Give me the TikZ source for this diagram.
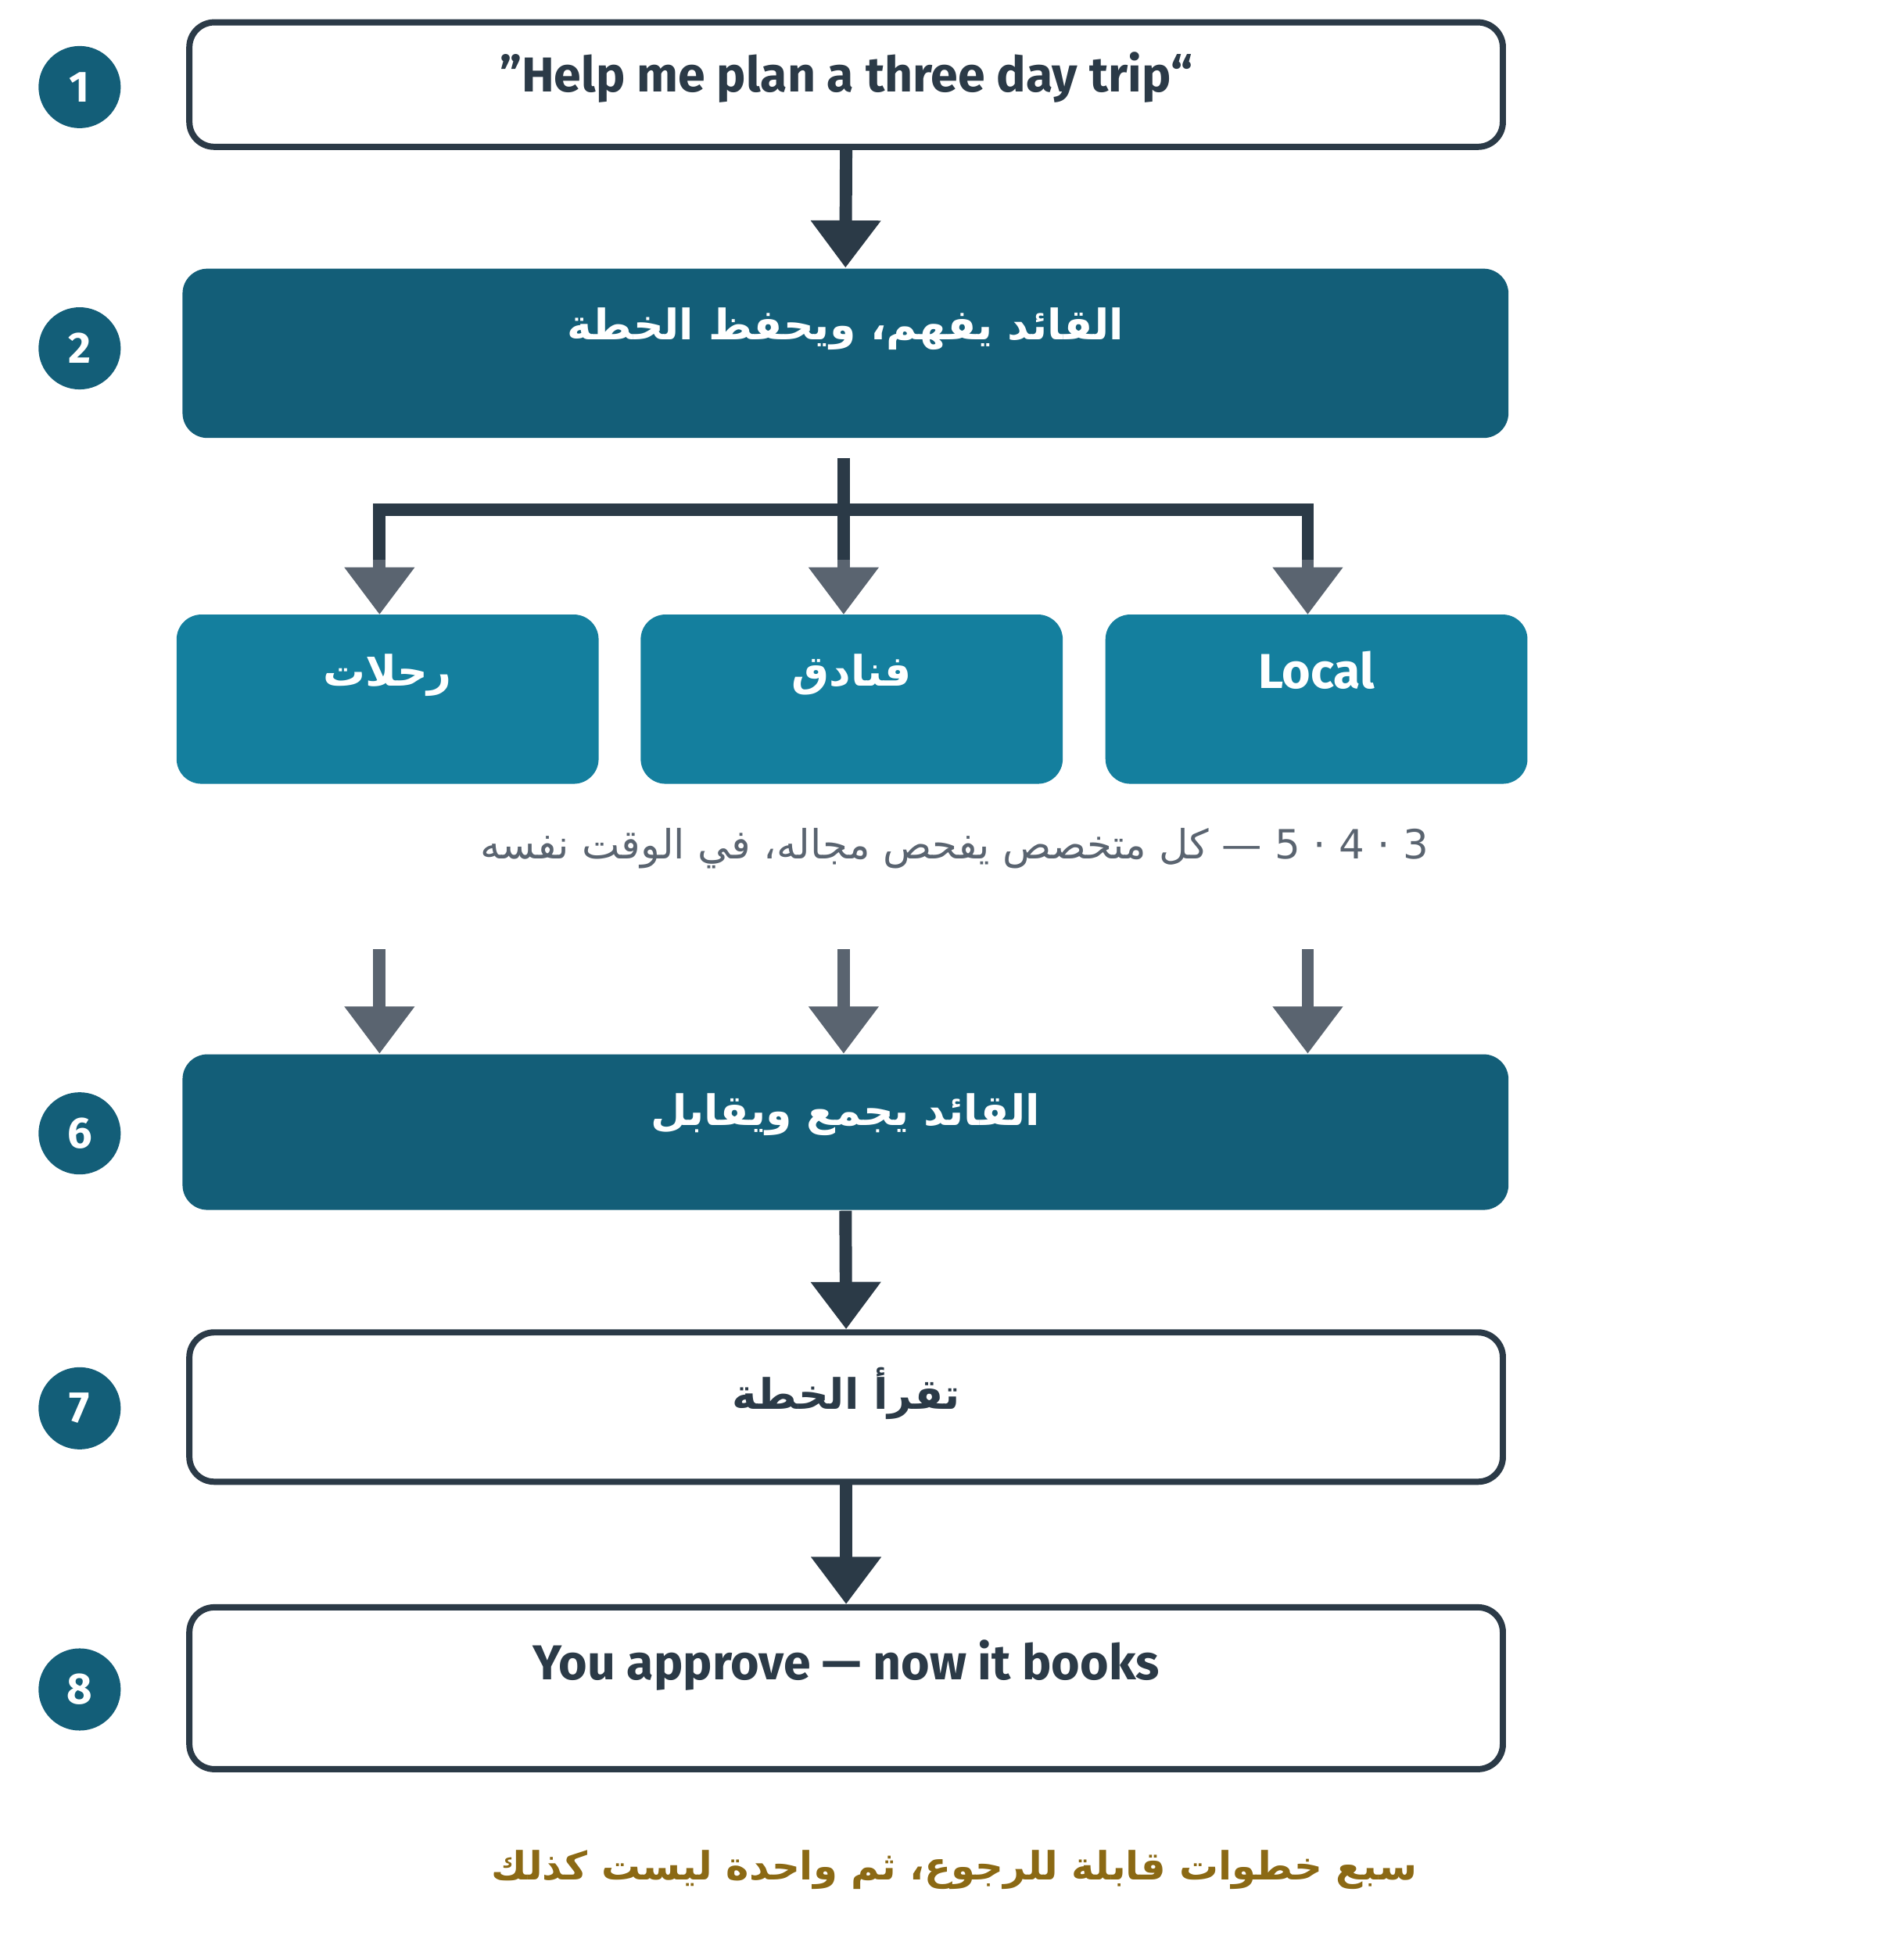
\documentclass[tikz,border=0pt]{standalone}
\usepackage{fontspec}
\setmainfont{Fira Sans}
\newfontfamily\arabicfont[Script=Arabic]{DejaVu Sans}
\usetikzlibrary{positioning,arrows.meta}
\TeXXeTstate=1
\newcommand{\ar}[1]{{\arabicfont\beginR #1\endR}}
\definecolor{ink}{HTML}{2B3A47}
\definecolor{deepteal}{HTML}{135E78}
\definecolor{midteal}{HTML}{147F9E}
\definecolor{slate}{HTML}{5A6470}
\definecolor{gold}{HTML}{8B6914}
\tikzset{
  stepno/.style={circle,fill=deepteal,minimum size=0.66cm,inner sep=0pt,text=white,font=\fontsize{10}{12}\selectfont\bfseries},
  plainbox/.style={draw=ink,line width=0.05cm,rounded corners=0.2cm,fill=white,minimum width=10.55cm},
  leadbox/.style={fill=deepteal,rounded corners=0.2cm,minimum width=10.65cm},
  agentbox/.style={fill=midteal,rounded corners=0.2cm,minimum width=3.39cm,minimum height=1.36cm},
  boxtext/.style={anchor=north,font=\fontsize{11.2}{13}\selectfont\bfseries},
  arabtext/.style={anchor=north,font=\fontsize{9.6}{12}\selectfont\bfseries},
  flow/.style={ink,line width=0.1cm,-{Triangle[width=0.54cm,length=0.38cm]}},
  fan/.style={ink,line width=0.1cm},
  fanarrow/.style={slate,line width=0.1cm,-{Triangle[width=0.54cm,length=0.38cm]}}
}
\begin{document}
\begin{tikzpicture}[x=0.01cm,y=-0.01cm]
  \useasboundingbox (0,0) rectangle (1530,1561);

  % step numbers
  \node[stepno] (n1) at (64,70) {1};
  \node[stepno] (n2) at (64,280) {2};
  \node[stepno] (n6) at (64,911) {6};
  \node[stepno] (n7) at (64,1132) {7};
  \node[stepno] (n8) at (64,1358) {8};

  % boxes
  \node[plainbox,minimum height=1.0cm] (ask) at (680,68) {};
  \node[boxtext,text=ink] (askt) at ([yshift=-0.14cm]ask.north) {”Help me plan a three day trip“};
  \node[leadbox,minimum height=1.36cm] (lead) at (679.5,284) {};
  \node[arabtext,text=white] (leadt) at ([yshift=-0.2cm]lead.north) {\ar{القائد يفهم، ويحفظ الخطة}};

  \node[agentbox] (trips) at (311.5,562) {};
  \node[agentbox] (hotels) at (684.5,562) {};
  \node[agentbox] (local) at (1058,562) {};
  \node[arabtext,text=white] (tripst) at ([yshift=-0.2cm]trips.north) {\ar{رحلات}};
  \node[arabtext,text=white] (hotelst) at ([yshift=-0.2cm]hotels.north) {\ar{فنادق}};
  \node[boxtext,text=white] (localt) at ([yshift=-0.18cm]local.north) {Local};

  \node[text=slate,font=\fontsize{9.2}{11}\selectfont] (note) at (767,682) {\ar{3 · 4 · 5 — كل متخصص يفحص مجاله، في الوقت نفسه}};

  \node[leadbox,minimum height=1.25cm] (merge) at (679.5,910) {};
  \node[arabtext,text=white] (merget) at ([yshift=-0.2cm]merge.north) {\ar{القائد يجمع ويقابل}};
  \node[plainbox,minimum height=1.2cm] (read) at (680,1131) {};
  \node[arabtext,text=ink] (readt) at ([yshift=-0.18cm]read.north) {\ar{تقرأ الخطة}};
  \node[plainbox,minimum height=1.3cm] (book) at (680,1357) {};
  \node[boxtext,text=ink] (bookt) at ([yshift=-0.16cm]book.north) {You approve — now it books};

  \node[text=gold,font=\fontsize{8.9}{11}\selectfont\bfseries] (foot) at (767,1503) {\ar{سبع خطوات قابلة للرجوع، ثم واحدة ليست كذلك}};

  % main flow
  \draw[flow] (ask.south) -- (lead.north);
  \draw[flow] (merge.south) -- (read.north);
  \draw[flow] (read.south) -- (book.north);

  % fan out
  \coordinate (split) at (678,368);
  \coordinate (barl) at (305,410);
  \coordinate (barr) at (1051,410);
  \draw[fan] (split) -- (678,410);
  \draw[fan] ([xshift=-0.05cm]barl) -- ([xshift=0.05cm]barr);
  \draw[fan] (barl) -- (305,455);
  \draw[fan] (678,410) -- (678,455);
  \draw[fan] (barr) -- (1051,455);
  \draw[fanarrow] (305,450) -- (305,494);
  \draw[fanarrow] (678,450) -- (678,494);
  \draw[fanarrow] (1051,450) -- (1051,494);

  % fan in
  \foreach \x in {305,678,1051}
    \draw[fanarrow] (\x,763) -- (\x,847);
\end{tikzpicture}
\end{document}
